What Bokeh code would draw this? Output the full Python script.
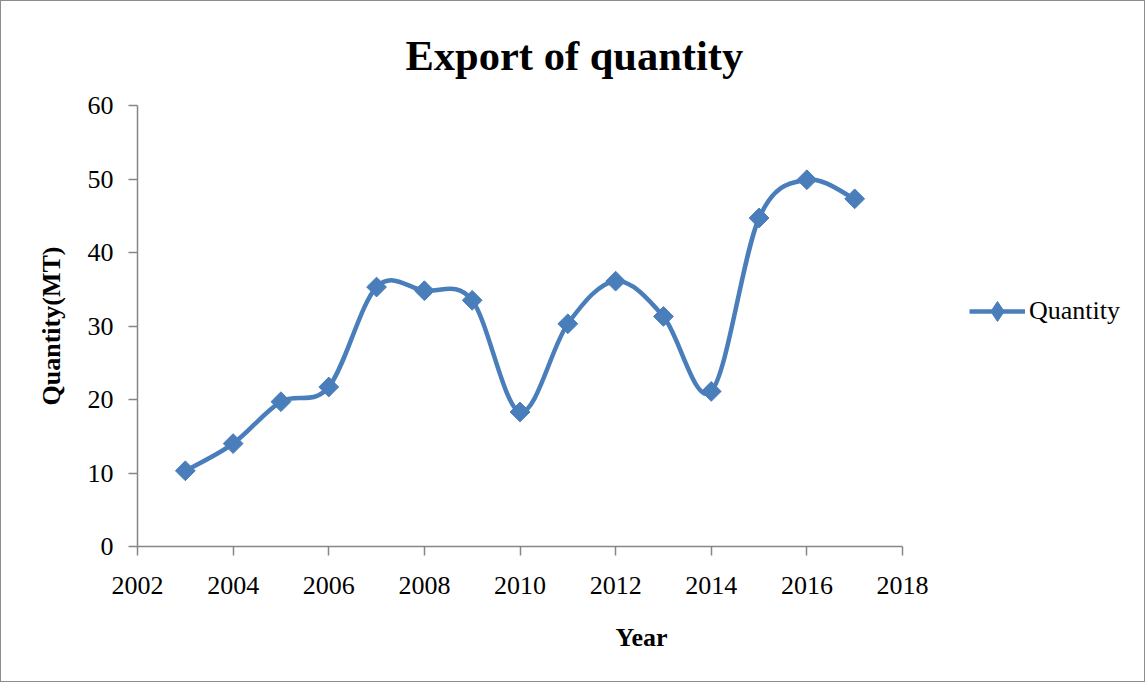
import numpy as np
from bokeh.plotting import figure
from bokeh.models import Legend, LegendItem, Range1d, FixedTicker, ColumnDataSource
from bokeh.embed import file_html
from bokeh.resources import INLINE

years = [2003, 2004, 2005, 2006, 2007, 2008, 2009, 2010, 2011, 2012, 2013, 2014, 2015, 2016, 2017]
quantity = [10.3, 14.0, 19.7, 21.7, 35.3, 34.8, 33.5, 18.3, 30.3, 36.1, 31.3, 21.1, 44.7, 49.9, 47.3]
x_ticks = [2002, 2004, 2006, 2008, 2010, 2012, 2014, 2016, 2018]
y_ticks = [0, 10, 20, 30, 40, 50, 60]

FONT = "Liberation Serif"
BLUE = "#4A7EBB"
AXIS = "#868686"

W, H = 1145, 682
LEFT, TOP, BOTTOM = 136, 104, 137
AXIS_PX = 765  # pixel length of the 2002..2018 axis
frame_w = W - LEFT - 1
x_end = x_ticks[0] + (x_ticks[-1] - x_ticks[0]) * frame_w / AXIS_PX

p = figure(width=W, height=H, output_backend="svg", toolbar_location=None,
           x_range=Range1d(x_ticks[0], x_end), y_range=Range1d(y_ticks[0], y_ticks[-1]),
           min_border_left=LEFT, min_border_right=1, min_border_top=TOP, min_border_bottom=BOTTOM)
p.styles = {"border": "1px solid #8c8c8c"}
p.outline_line_color = None
p.xgrid.visible = False
p.ygrid.visible = False

p.title.text = "Export of quantity"
p.title.text_font = FONT
p.title.text_font_size = "42.5px"
p.title.text_font_style = "bold"
p.title.text_color = "black"
p.title.align = "left"
p.title.vertical_align = "top"
p.title.offset = 268
p.title.standoff = 50

for ax, ticks in ((p.xaxis, x_ticks), (p.yaxis, y_ticks)):
    ax.ticker = FixedTicker(ticks=ticks)
    ax.bounds = (ticks[0], ticks[-1])
    ax.axis_line_color = AXIS
    ax.axis_line_width = 1.5
    ax.major_tick_line_color = AXIS
    ax.major_tick_line_width = 1.5
    ax.major_tick_out = 9
    ax.major_tick_in = 0
    ax.minor_tick_line_color = None
    ax.major_label_text_font = FONT
    ax.major_label_text_font_size = "26px"
    ax.major_label_text_color = "black"
    ax.axis_label_text_font = FONT
    ax.axis_label_text_font_size = "26px"
    ax.axis_label_text_font_style = "bold"
    ax.axis_label_text_color = "black"

p.xaxis.axis_label = "Year"
p.yaxis.axis_label = "Quantity(MT)"
p.xaxis.major_label_standoff = 21
p.yaxis.major_label_standoff = 15
p.xaxis.axis_label_standoff = 26
p.yaxis.axis_label_standoff = 19

# Smoothed line (Catmull-Rom style Bezier, as Excel's smoothed line)
xs = np.array(years, dtype=float)
ys = np.array(quantity, dtype=float)
n = len(xs)
x0s, y0s, x1s, y1s, cx0, cy0, cx1, cy1 = [], [], [], [], [], [], [], []
for i in range(n - 1):
    pm = i - 1 if i > 0 else i
    pp = i + 2 if i + 2 < n else i + 1
    x0s.append(xs[i]); y0s.append(ys[i]); x1s.append(xs[i + 1]); y1s.append(ys[i + 1])
    cx0.append(xs[i] + (xs[i + 1] - xs[pm]) / 6); cy0.append(ys[i] + (ys[i + 1] - ys[pm]) / 6)
    cx1.append(xs[i + 1] - (xs[pp] - xs[i]) / 6); cy1.append(ys[i + 1] - (ys[pp] - ys[i]) / 6)
bz = ColumnDataSource(dict(x0=x0s, y0=y0s, x1=x1s, y1=y1s, cx0=cx0, cy0=cy0, cx1=cx1, cy1=cy1))
p.bezier(x0="x0", y0="y0", x1="x1", y1="y1", cx0="cx0", cy0="cy0", cx1="cx1", cy1="cy1",
         source=bz, line_color=BLUE, line_width=4.5)

src = ColumnDataSource(dict(x=years, y=quantity, angle=[np.pi / 4] * len(years)))
pts = p.scatter("x", "y", source=src, marker="square", angle="angle", size=14,
                fill_color=BLUE, line_color=BLUE)

# legend-only renderers (single point: line invisible, diamond hidden under first marker)
leg_line = p.line(x=years[:1], y=quantity[:1], line_color=BLUE, line_width=4.5)
leg_mark = p.scatter(x=years[:1], y=quantity[:1], marker="diamond", size=10,
                     fill_color=BLUE, line_color=BLUE, level="underlay")

legend = Legend(items=[LegendItem(label="Quantity", renderers=[leg_line, leg_mark])],
                location=(832, 210), margin=0, padding=0, border_line_color=None,
                background_fill_alpha=0,
                glyph_width=56, glyph_height=50, label_standoff=4,
                label_text_font=FONT, label_text_font_size="26px", label_text_color="black")
p.add_layout(legend)

open("out.html", "w").write(file_html(p, INLINE))
